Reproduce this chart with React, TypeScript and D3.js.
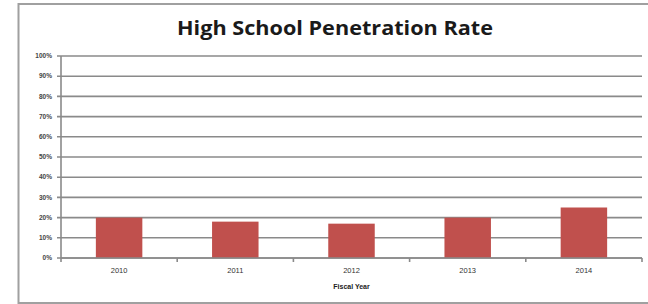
import React from "react";
import * as d3 from "d3";

const years = ["2010", "2011", "2012", "2013", "2014"];
const rates = [20, 18, 17, 20, 25];
const yTicks = [0, 10, 20, 30, 40, 50, 60, 70, 80, 90, 100];
const title = "High School Penetration Rate";
const xTitle = "Fiscal Year";

export default function App() {
  const W = 648, H = 304;
  const left = 61, right = 642, top = 56, bottom = 258;
  const x = d3.scaleBand<string>().domain(years).range([left, right]).paddingInner(0.6).paddingOuter(0.3);
  const xb = d3.scaleBand<string>().domain(years).range([left, right]);
  const y = d3.scaleLinear().domain([0, 100]).range([bottom, top]);
  const grid = "#8a8a8a";
  return (
    <svg width={W} height={H} style={{ position: "fixed", left: 0, top: 0, background: "#fff" }}>
      <rect x={18.5} y={4} width={W} height={299} fill="#fff" stroke="#a0a0a0" strokeWidth={2} />
      <text x={335} y={35} textAnchor="middle" fontFamily="'Open Sans', Lato, sans-serif" fontWeight="bold" fontSize={19} textLength={316} lengthAdjust="spacingAndGlyphs" fill="#1a1a1a">{title}</text>
      {yTicks.map((t) => (
        <g key={t}>
          <line x1={left - 4} x2={right} y1={y(t)} y2={y(t)} stroke={grid} strokeWidth={1.6} />
          <text x={52} y={y(t)} dy="0.35em" textAnchor="end" fontFamily="'Liberation Sans', sans-serif" fontWeight="bold" fontSize={6.5} fill="#444">{t}%</text>
        </g>
      ))}
      {rates.map((v, i) => (
        <rect key={years[i]} x={x(years[i])} y={y(v)} width={x.bandwidth()} height={bottom - y(v)} fill="#C0504D" />
      ))}
      <line x1={left} x2={left} y1={top} y2={bottom + 4} stroke={grid} strokeWidth={1.6} />
      <line x1={left} x2={right} y1={bottom} y2={bottom} stroke={grid} strokeWidth={1.6} />
      {years.map((yr) => (
        <line key={"t" + yr} x1={(xb(yr) as number) + xb.bandwidth()} x2={(xb(yr) as number) + xb.bandwidth()} y1={bottom} y2={bottom + 4} stroke={grid} strokeWidth={1.6} />
      ))}
      {years.map((yr) => (
        <text key={"l" + yr} x={(xb(yr) as number) + xb.bandwidth() / 2} y={270} dy="0.35em" textAnchor="middle" fontFamily="'Liberation Sans', sans-serif" fontSize={7.5} fill="#333">{yr}</text>
      ))}
      <text x={(left + right) / 2} y={287} dy="0.35em" textAnchor="middle" fontFamily="'Liberation Sans', sans-serif" fontWeight="bold" fontSize={7} fill="#222">{xTitle}</text>
    </svg>
  );
}
